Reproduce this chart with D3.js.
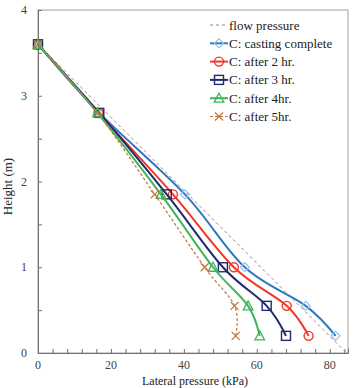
<!DOCTYPE html>
<html>
<head>
<meta charset="utf-8">
<script src="https://cdn.jsdelivr.net/npm/d3@7"></script>
<style>
  body { margin: 0; background: #fff; }
  svg text { font-family: "Liberation Serif", "DejaVu Serif", serif; }
</style>
</head>
<body>
<svg id="chart" width="354" height="388"></svg>
<script>
// heights (m) where each series was measured
var heights = [3.6, 2.8, 1.85, 1.0, 0.55, 0.2];

// lateral pressure (kPa) for each series
var castingComplete = [0, 16.8, 40.3, 56.7, 73.4, 81.6];
var after2hr = [0, 16.6, 37.0, 53.7, 68.2, 74.2];
var after3hr = [0, 16.8, 35.3, 50.7, 62.7, 68.0];
var after4hr = [0, 16.3, 33.7, 48.0, 57.6, 60.8];
var after5hr = [0, 16.3, 32.0, 45.7, 53.9, 54.2];

// hydrostatic flow pressure line
var flowHeights = [3.6, 0];
var flowPressure = [0, 84.6];

var xTicks = [0, 20, 40, 60, 80];
var yTicks = [0, 1, 2, 3, 4];

var svg = d3.select("#chart"),
    margin = {top: 10, right: 6, bottom: 35, left: 38},
    width = +svg.attr("width") - margin.left - margin.right,
    height = +svg.attr("height") - margin.top - margin.bottom;

var x = d3.scaleLinear().domain([0, 85]).range([0, width]);
var y = d3.scaleLinear().domain([0, 4]).range([height, 0]);

var g = svg.append("g")
    .attr("transform", "translate(" + margin.left + "," + margin.top + ")");

// frame
g.append("rect")
    .attr("width", width).attr("height", height)
    .attr("fill", "none").attr("stroke", "#a0a0a0").attr("stroke-width", 1);

// x axis
var xAxis = g.append("g")
    .attr("transform", "translate(0," + height + ")")
    .call(d3.axisBottom(x).tickValues(d3.range(0, 85, 4)).tickSize(-4).tickFormat(""));
xAxis.selectAll("line").attr("stroke", "#707070");
xAxis.select(".domain").attr("stroke", "#707070");
g.append("g").selectAll("text")
    .data(xTicks).enter().append("text")
    .attr("x", function(d) { return x(d); })
    .attr("y", height + 16)
    .attr("text-anchor", "middle")
    .attr("font-size", "12px")
    .attr("fill", "#444")
    .text(function(d) { return d; });

// y axis
var yAxis = g.append("g")
    .call(d3.axisLeft(y).tickValues(d3.range(0, 4.01, 0.5)).tickSize(-4).tickFormat(""));
yAxis.selectAll("line").attr("stroke", "#707070");
yAxis.select(".domain").attr("stroke", "#707070");
g.append("g").selectAll("text")
    .data(yTicks).enter().append("text")
    .attr("x", -11)
    .attr("y", function(d) { return y(d) + 4; })
    .attr("text-anchor", "end")
    .attr("font-size", "12px")
    .attr("fill", "#444")
    .text(function(d) { return d; });

// axis titles
svg.append("text")
    .attr("x", 195)
    .attr("y", 385)
    .attr("text-anchor", "middle")
    .attr("font-size", "12px")
    .attr("fill", "#222")
    .text("Lateral pressure (kPa)");
svg.append("text")
    .attr("transform", "translate(12," + (margin.top + height / 2 + 5) + ") rotate(-90)")
    .attr("text-anchor", "middle")
    .attr("font-size", "13px")
    .attr("fill", "#222")
    .text("Height (m)");

var series = [
    {name: "C: casting complete", values: castingComplete, color: "#2f78c0", mark: "#8ec4ee", shape: "diamond", dash: null},
    {name: "C: after 2 hr.", values: after2hr, color: "#f2362a", mark: "#f2362a", shape: "circle", dash: null},
    {name: "C: after 3 hr.", values: after3hr, color: "#1d2a6e", mark: "#1d2a6e", shape: "square", dash: null},
    {name: "C: after 4hr.", values: after4hr, color: "#3fb55a", mark: "#3fb55a", shape: "triangle", dash: null},
    {name: "C: after 5hr.", values: after5hr, color: "#c0783f", mark: "#c0783f", shape: "cross", dash: "3,2"}
];

var line = d3.line()
    .x(function(d) { return x(d[0]); })
    .y(function(d) { return y(d[1]); })
    .curve(d3.curveCatmullRom.alpha(0));

// flow pressure
g.append("path")
    .datum(flowPressure.map(function(p, i) { return [p, flowHeights[i]]; }))
    .attr("d", d3.line().x(function(d) { return x(d[0]); }).y(function(d) { return y(d[1]); }))
    .attr("fill", "none").attr("stroke", "#8a8a8a").attr("stroke-width", 1)
    .attr("stroke-dasharray", "3,3");

function marker(sel, shape, color, cx, cy) {
    if (shape === "diamond") {
        sel.append("path").attr("d", "M" + cx + "," + (cy - 4.5) + "L" + (cx + 4.5) + "," + cy + "L" + cx + "," + (cy + 4.5) + "L" + (cx - 4.5) + "," + cy + "Z")
            .attr("fill", "none").attr("stroke", color).attr("stroke-width", 1.2);
    } else if (shape === "circle") {
        sel.append("circle").attr("cx", cx).attr("cy", cy).attr("r", 4.5)
            .attr("fill", "none").attr("stroke", color).attr("stroke-width", 1.4);
    } else if (shape === "square") {
        sel.append("rect").attr("x", cx - 4.5).attr("y", cy - 4.5).attr("width", 9).attr("height", 9)
            .attr("fill", "none").attr("stroke", color).attr("stroke-width", 1.4);
    } else if (shape === "triangle") {
        sel.append("path").attr("d", "M" + cx + "," + (cy - 5) + "L" + (cx + 4.8) + "," + (cy + 4) + "L" + (cx - 4.8) + "," + (cy + 4) + "Z")
            .attr("fill", "none").attr("stroke", color).attr("stroke-width", 1.3);
    } else {
        sel.append("path").attr("d", "M" + (cx - 4) + "," + (cy - 4) + "L" + (cx + 4) + "," + (cy + 4) + "M" + (cx - 4) + "," + (cy + 4) + "L" + (cx + 4) + "," + (cy - 4))
            .attr("fill", "none").attr("stroke", color).attr("stroke-width", 1.3);
    }
}

series.forEach(function(s) {
    var pts = s.values.map(function(v, i) { return [v, heights[i]]; });
    g.append("path")
        .datum(pts)
        .attr("d", line)
        .attr("fill", "none")
        .attr("stroke", s.color)
        .attr("stroke-width", s.dash ? 1.2 : 2)
        .attr("stroke-dasharray", s.dash);
    var mg = g.append("g");
    pts.forEach(function(p) { marker(mg, s.shape, s.mark, x(p[0]), y(p[1])); });
});

// legend
var leg = svg.append("g").attr("transform", "translate(210,25)");
var legItems = [{name: "flow pressure", color: "#8a8a8a", mark: null, dash: "3,3", width: 1}]
    .concat(series.map(function(s) { return {name: s.name, color: s.color, mark: s.mark, shape: s.shape, dash: s.dash, width: s.dash ? 1.2 : 2}; }));
legItems.forEach(function(d, i) {
    var row = leg.append("g").attr("transform", "translate(0," + (i * 18.3) + ")");
    row.append("line").attr("x1", 0).attr("x2", 18).attr("y1", 0).attr("y2", 0)
        .attr("stroke", d.color).attr("stroke-width", d.width).attr("stroke-dasharray", d.dash);
    if (d.mark) marker(row, d.shape, d.mark, 9, 0);
    row.append("text").attr("x", 19).attr("y", 4.5)
        .attr("font-size", "13px").attr("fill", "#222")
        .text(d.name);
});
</script>
</body>
</html>
